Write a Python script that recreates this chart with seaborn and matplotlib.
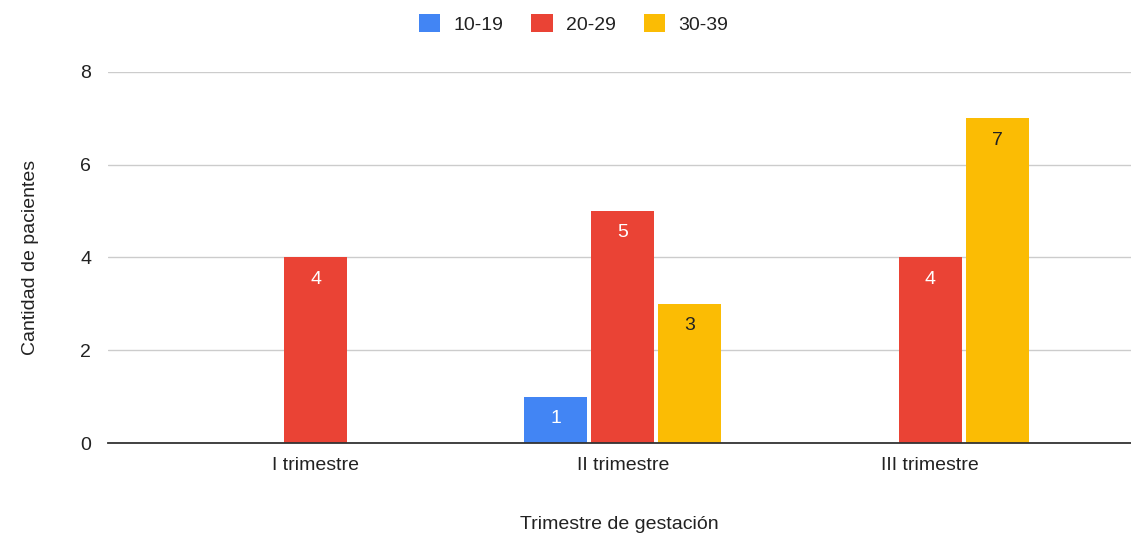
import numpy as np
import pandas as pd
import matplotlib
matplotlib.use("Agg")
from matplotlib import pyplot as plt
from matplotlib.patches import Patch
import seaborn as sns

trimestres = ["I trimestre", "II trimestre", "III trimestre"]
edades = ["10-19", "20-29", "30-39"]
v_10_19 = [0, 1, 0]
v_20_29 = [4, 5, 4]
v_30_39 = [0, 3, 7]
colors = ["#4285F4", "#EA4335", "#FBBC04"]
label_colors = ["white", "white", "#222222"]

rows = []
for edad, vals in zip(edades, [v_10_19, v_20_29, v_30_39]):
    for t, v in zip(trimestres, vals):
        rows.append({"trimestre": t, "edad": edad, "n": v})
df = pd.DataFrame(rows)

sns.set_style("white")
plt.rcParams["font.family"] = ["Liberation Sans", "DejaVu Sans"]

fig = plt.figure(figsize=(11.31, 5.34), dpi=100)
ax = fig.add_axes([0.0955, 0.1704, 0.9045, 0.6948])

sns.barplot(data=df, x="trimestre", y="n", hue="edad", hue_order=edades,
            order=trimestres, palette=colors, width=0.654, gap=0.06,
            saturation=1, ax=ax, legend=False, edgecolor="none")

# value labels inside top of each bar
for container, lc in zip(ax.containers, label_colors):
    for bar in container:
        h = bar.get_height()
        if h > 0:
            ax.text(bar.get_x() + bar.get_width() / 2, h - 0.47, f"{int(h)}",
                    ha="center", va="center", color=lc, fontsize=14)

ax.set_xlim(-0.676, 2.654)
ax.set_ylim(0, 8)
ax.set_yticks([0, 2, 4, 6, 8])
ax.yaxis.grid(True, color="#cccccc", linewidth=1)
ax.set_axisbelow(True)
for s in ["top", "right", "left"]:
    ax.spines[s].set_visible(False)
ax.spines["bottom"].set_color("#333333")
ax.spines["bottom"].set_linewidth(1.3)
ax.tick_params(axis="both", length=0, labelsize=14, colors="#222222")
ax.tick_params(axis="y", pad=12)
ax.tick_params(axis="x", pad=10)
ax.set_xlabel("Trimestre de gestación", fontsize=14, color="#222222", labelpad=30)
ax.set_ylabel("Cantidad de pacientes", fontsize=14, color="#222222", labelpad=30)

handles = [Patch(facecolor=c, edgecolor="none") for c in colors]
fig.legend(handles, edades, loc="upper center", bbox_to_anchor=(0.507, 1.007),
           ncol=3, frameon=False, fontsize=14, handlelength=1.1, handleheight=1.1,
           columnspacing=1.45, handletextpad=0.67, labelcolor="#222222")

plt.savefig("out.png", dpi=100)
